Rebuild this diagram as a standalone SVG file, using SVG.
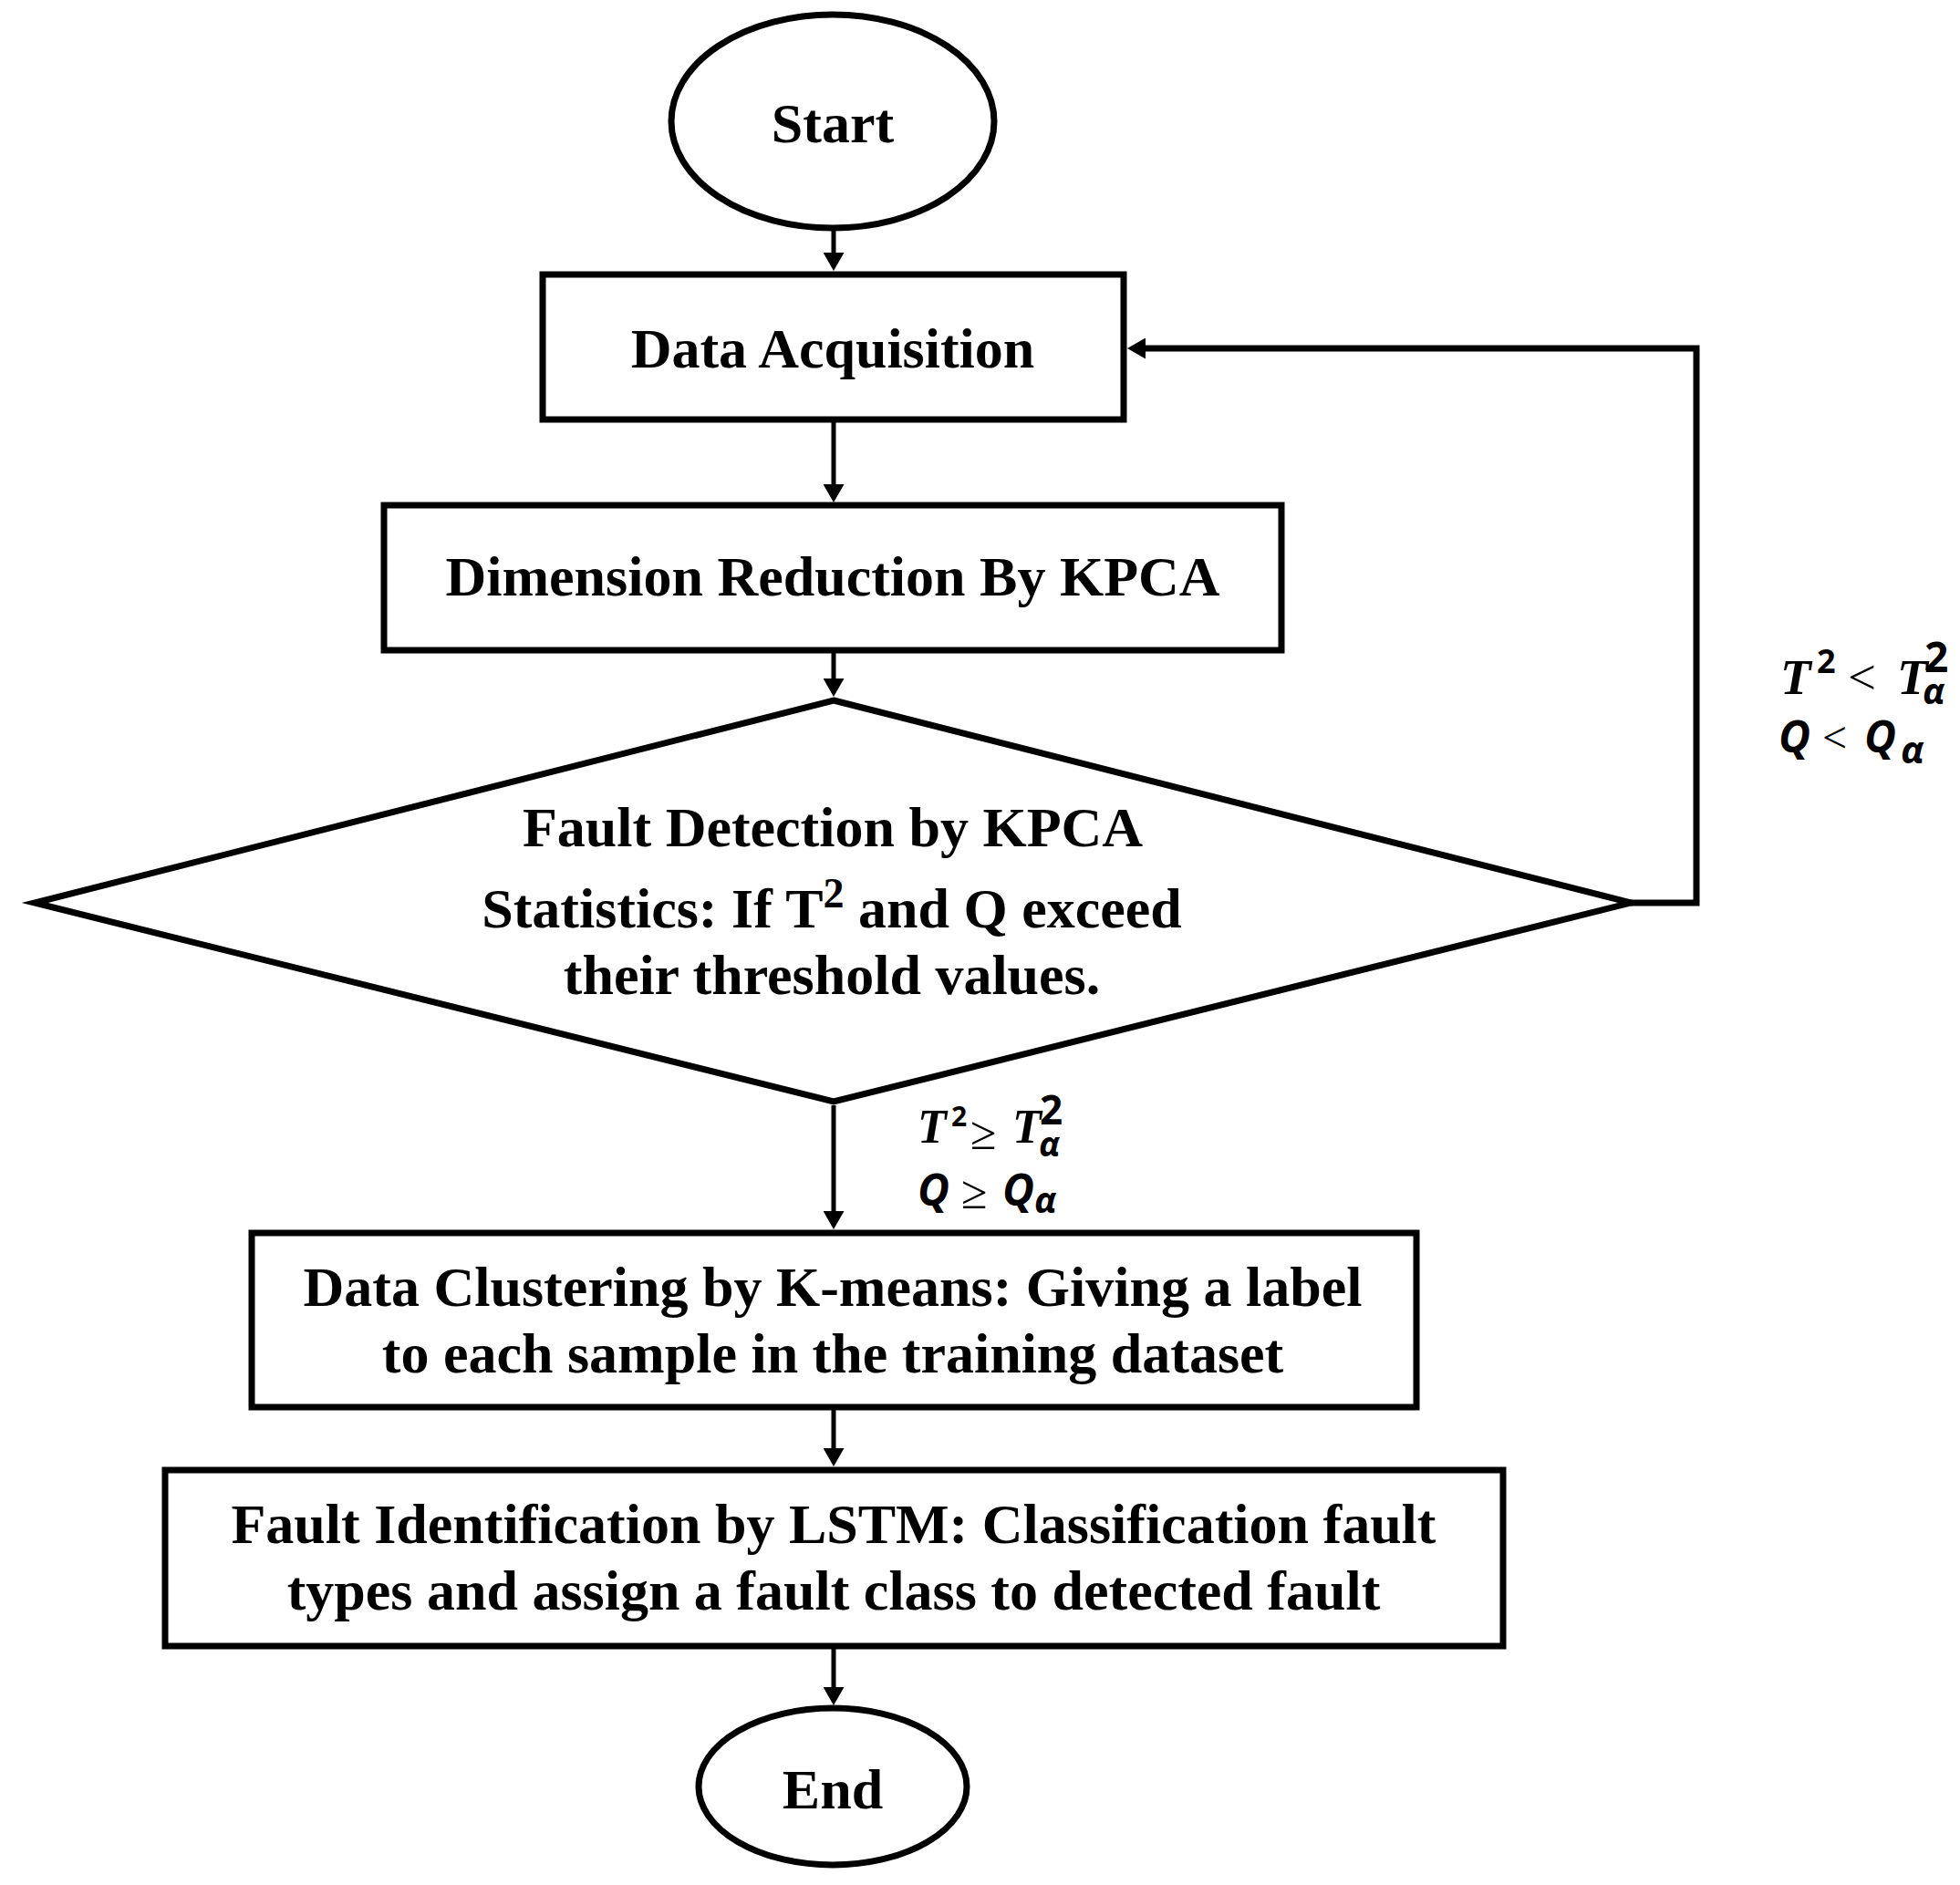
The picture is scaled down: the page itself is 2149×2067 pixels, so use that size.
<svg xmlns="http://www.w3.org/2000/svg" width="2149" height="2067" viewBox="0 0 2149 2067">
<style>
.shape{fill:#fff;stroke:#000;stroke-width:7;stroke-miterlimit:10}
.lbl{font-family:"Liberation Serif","Times New Roman",serif;font-weight:bold;font-size:62px;fill:#000;text-anchor:middle}
.conn{fill:none;stroke:#000;stroke-width:5}
.loop{fill:none;stroke:#000;stroke-width:7}
.mt{font-family:"Liberation Serif",serif;font-style:italic;font-weight:bold;fill:#000}
.ms{font-family:"Open Sans","Liberation Sans",sans-serif;font-style:italic;font-weight:bold;fill:#000}
.mo{font-family:"Liberation Serif",serif;font-weight:normal;fill:#000}
.sp{font-family:"Open Sans","Liberation Sans",sans-serif;font-weight:bold;fill:#000}
</style>
<defs>
<marker id="ah" viewBox="0 0 20 23" refX="12" refY="11.5" markerWidth="20" markerHeight="23" markerUnits="userSpaceOnUse" orient="auto">
<path d="M0,0 L20,11.5 L0,23 z" fill="#000"/>
</marker>
</defs>
<rect width="2149" height="2067" fill="#fff"/>
<g id="connectors">
<line class="conn" x1="914" y1="252" x2="914" y2="289" marker-end="url(#ah)"/>
<line class="conn" x1="914" y1="463" x2="914" y2="543" marker-end="url(#ah)"/>
<line class="conn" x1="914" y1="716" x2="914" y2="756" marker-end="url(#ah)"/>
<line class="conn" x1="914" y1="1212" x2="914" y2="1340" marker-end="url(#ah)"/>
<line class="conn" x1="914" y1="1546" x2="914" y2="1600" marker-end="url(#ah)"/>
<line class="conn" x1="914" y1="1808" x2="914" y2="1862" marker-end="url(#ah)"/>
<path class="loop" d="M1788,990 H1860 V382 H1244" marker-end="url(#ah)"/>
</g>
<g id="start">
<ellipse class="shape" cx="913" cy="133" rx="177" ry="117"/>
<text class="lbl" x="913" y="156">Start</text>
</g>
<g id="data-acquisition">
<rect class="shape" x="595" y="301" width="637" height="159"/>
<text class="lbl" x="913" y="403">Data Acquisition</text>
</g>
<g id="dimension-reduction">
<rect class="shape" x="421" y="554" width="984" height="159"/>
<text class="lbl" x="913" y="653">Dimension Reduction By KPCA</text>
</g>
<g id="fault-detection">
<polygon class="shape" points="914,768 1788,990 914,1208 38,990"/>
<text class="lbl" x="913" y="928">Fault Detection by KPCA</text>
<text class="lbl" x="912" y="1017">Statistics: If T<tspan font-size="46" dy="-22">2</tspan><tspan dy="22"> and Q exceed</tspan></text>
<text class="lbl" x="912" y="1090">their threshold values.</text>
</g>
<g id="label-normal">
<text class="mt" x="1952" y="761" font-size="55">T</text>
<text class="sp" x="1992" y="738" font-size="36">2</text>
<text class="mo" x="2026" y="761" font-size="55">&lt;</text>
<text class="mt" x="2080" y="761" font-size="55">T</text>
<text class="sp" x="2110" y="737" font-size="46">2</text>
<text class="ms" x="2108" y="772" font-size="40">α</text>
<text class="ms" x="1950" y="825" font-size="48">Q</text>
<text class="mo" x="1998" y="825" font-size="48">&lt;</text>
<text class="ms" x="2044" y="825" font-size="48">Q</text>
<text class="ms" x="2084" y="837" font-size="42">α</text>
</g>
<g id="label-fault">
<text class="mt" x="1006" y="1253" font-size="52">T</text>
<text class="sp" x="1043" y="1235" font-size="30">2</text>
<text class="mo" x="1064" y="1260" font-size="52">≥</text>
<text class="mt" x="1110" y="1253" font-size="52">T</text>
<text class="sp" x="1140" y="1233" font-size="44">2</text>
<text class="ms" x="1139" y="1268" font-size="38">α</text>
<text class="ms" x="1006" y="1322" font-size="48">Q</text>
<text class="mo" x="1054" y="1325" font-size="52">≥</text>
<text class="ms" x="1099" y="1322" font-size="48">Q</text>
<text class="ms" x="1134" y="1330" font-size="40">α</text>
</g>
<g id="data-clustering">
<rect class="shape" x="276" y="1352" width="1277" height="191"/>
<text class="lbl" x="913" y="1432">Data Clustering by K-means: Giving a label</text>
<text class="lbl" x="913" y="1505">to each sample in the training dataset</text>
</g>
<g id="fault-identification">
<rect class="shape" x="181" y="1612" width="1467" height="193"/>
<text class="lbl" x="914" y="1692">Fault Identification by LSTM: Classification fault</text>
<text class="lbl" x="914" y="1765">types and assign a fault class to detected fault</text>
</g>
<g id="end">
<ellipse class="shape" cx="913" cy="1959" rx="147" ry="86"/>
<text class="lbl" x="913" y="1983">End</text>
</g>
</svg>
